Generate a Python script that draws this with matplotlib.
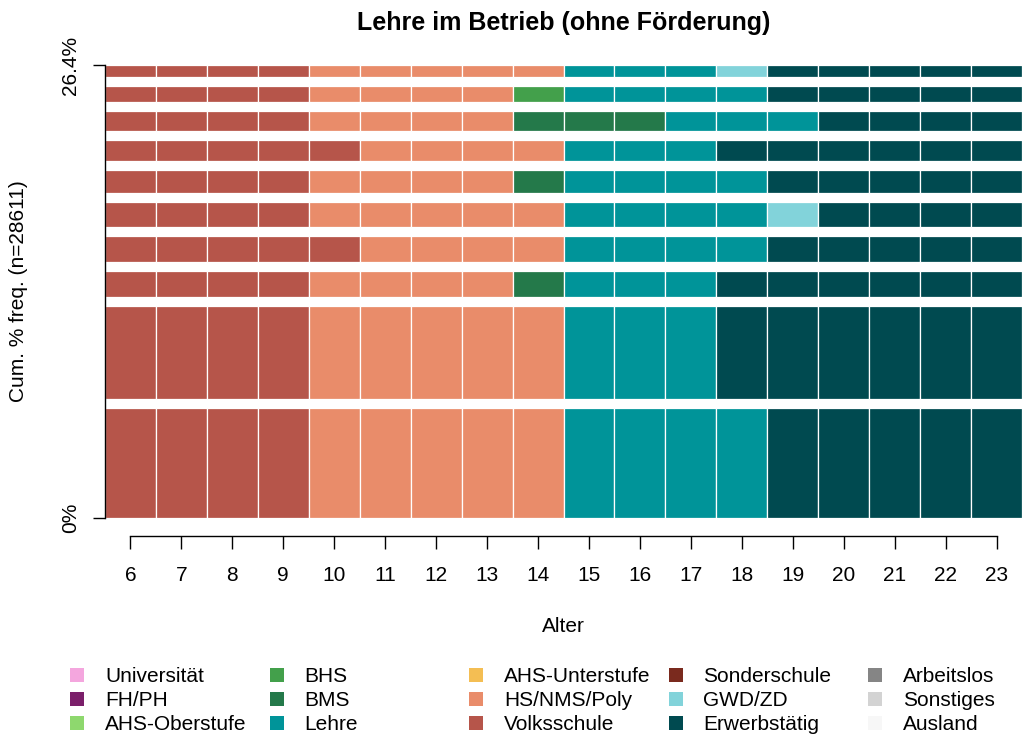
import matplotlib
matplotlib.use("Agg")
import matplotlib.pyplot as plt
from matplotlib.patches import Rectangle

plt.rcParams['font.family'] = ['Liberation Sans', 'DejaVu Sans']

# Zustände und Farben (Legende)
STATES = ["Universität", "FH/PH", "AHS-Oberstufe", "BHS", "BMS", "Lehre",
          "AHS-Unterstufe", "HS/NMS/Poly", "Volksschule", "Sonderschule",
          "GWD/ZD", "Erwerbstätig", "Arbeitslos", "Sonstiges", "Ausland"]
COLORS = ["#F4A6DE", "#7B1F6A", "#8ED86E", "#43A04B", "#24794A", "#009499",
          "#F4BE53", "#E98C6A", "#B6554A", "#7A2A1E",
          "#82D3DA", "#004A50", "#858585", "#D3D3D3", "#F7F7F7"]
COLOR_MAP = dict(zip(STATES, COLORS))

ages = list(range(6, 24))

# häufigste Sequenzen (von unten nach oben), als Lauflängen
sequences = [
    [("Volksschule", 4), ("HS/NMS/Poly", 5), ("Lehre", 4), ("Erwerbstätig", 5)],
    [("Volksschule", 4), ("HS/NMS/Poly", 5), ("Lehre", 3), ("Erwerbstätig", 6)],
    [("Volksschule", 4), ("HS/NMS/Poly", 4), ("BMS", 1), ("Lehre", 3), ("Erwerbstätig", 6)],
    [("Volksschule", 5), ("HS/NMS/Poly", 4), ("Lehre", 4), ("Erwerbstätig", 5)],
    [("Volksschule", 4), ("HS/NMS/Poly", 5), ("Lehre", 4), ("GWD/ZD", 1), ("Erwerbstätig", 4)],
    [("Volksschule", 4), ("HS/NMS/Poly", 4), ("BMS", 1), ("Lehre", 4), ("Erwerbstätig", 5)],
    [("Volksschule", 5), ("HS/NMS/Poly", 4), ("Lehre", 3), ("Erwerbstätig", 6)],
    [("Volksschule", 4), ("HS/NMS/Poly", 4), ("BMS", 3), ("Lehre", 3), ("Erwerbstätig", 4)],
    [("Volksschule", 4), ("HS/NMS/Poly", 4), ("BHS", 1), ("Lehre", 4), ("Erwerbstätig", 5)],
    [("Volksschule", 4), ("HS/NMS/Poly", 5), ("Lehre", 3), ("GWD/ZD", 1), ("Erwerbstätig", 5)],
]
# relative Häufigkeit in %
freqs = [7.78, 6.59, 1.88, 1.86, 1.78, 1.62, 1.47, 1.42, 1.14, 0.86]
n_total = 28611

cum_pct = sum(freqs)
space = 0.24 * cum_pct / len(freqs)

FS = 15

fig = plt.figure(figsize=(10.22, 7.37), dpi=100)
ax = fig.add_axes([105 / 1022, 1 - 518 / 737, 917 / 1022, 453 / 737])

bottom = 0.0
for seq, f in zip(sequences, freqs):
    col = 0
    for state, run in seq:
        for k in range(run):
            ax.barh(bottom, 1, left=ages[col] - 0.5, height=f, align="edge",
                    color=COLOR_MAP[state], edgecolor="white", linewidth=0.9)
            col += 1
    bottom += f + space
top = bottom - space

ax.set_xlim(ages[0] - 0.5, ages[-1] + 0.5)
ax.set_ylim(0, top)

for s in ["top", "right"]:
    ax.spines[s].set_visible(False)
ax.spines["bottom"].set_position(("outward", 13))
ax.spines["bottom"].set_bounds(ages[0], ages[-1])
ax.spines["left"].set_bounds(0, top)
ax.spines["left"].set_linewidth(1.0)
ax.spines["bottom"].set_linewidth(1.0)

ax.set_xticks(ages)
ax.set_xticklabels([str(a) for a in ages], fontsize=FS)
ax.tick_params(axis="x", direction="out", length=9.5, pad=12, width=1.0)
ax.set_yticks([0, top])
ax.set_yticklabels(["0%", f"{cum_pct:.1f}%"], rotation=90, va="center",
                   fontsize=FS)
ax.tick_params(axis="y", direction="out", length=9, pad=9, width=1.0)

ax.set_xlabel("Alter", fontsize=FS, labelpad=23)
ax.set_ylabel(f"Cum. % freq. (n={n_total})", fontsize=FS)
ax.yaxis.set_label_coords(-77 / 917, 0.5)
ax.set_title("Lehre im Betrieb (ohne Förderung)", fontsize=18,
             fontweight="bold", pad=25)

# Legende (5 Spalten, 3 Zeilen)
leg = fig.add_axes([0, 0, 1, 1])
leg.set_xlim(0, 1022)
leg.set_ylim(737, 0)
leg.axis("off")
for i, (label, color) in enumerate(zip(STATES, COLORS)):
    c, r = divmod(i, 3)
    x0 = 70 + c * 199.5
    y0 = 675 + r * 24
    leg.add_patch(Rectangle((x0, y0 - 7), 14, 14, facecolor=color,
                            edgecolor="none"))
    leg.text(x0 + 35, y0 + 1.5, label, fontsize=FS, va="center", ha="left")

fig.savefig("out.png", dpi=100)
